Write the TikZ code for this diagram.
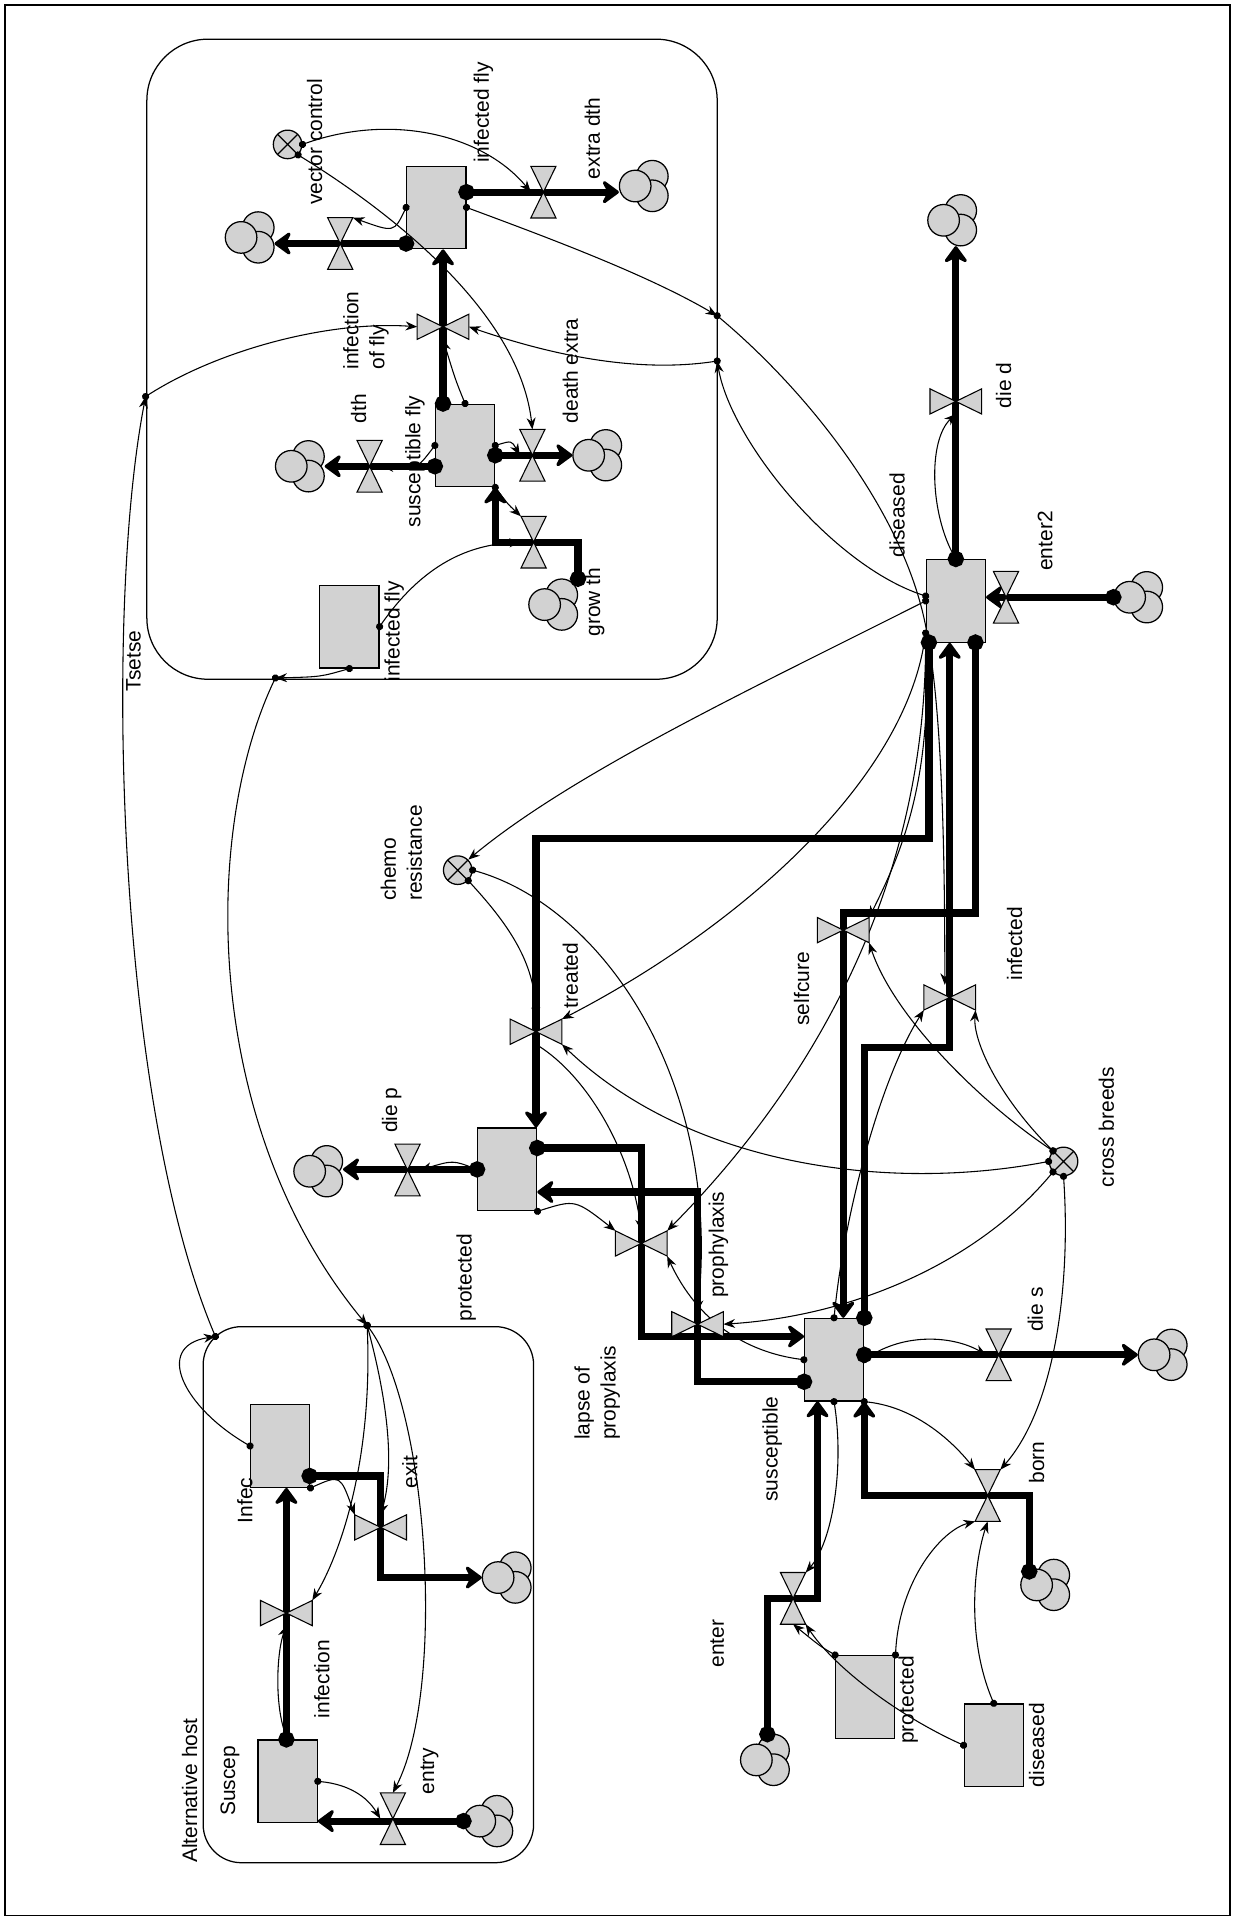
\documentclass[tikz,border=0pt]{standalone}
\usepackage{fontspec}
\setmainfont{Liberation Sans}
\usetikzlibrary{arrows.meta,calc}

% a source or sink: three puffs, front puff at (#2,#3)
\newcommand{\cloud}[3]{%
  \node[puff] (#1b) at ($(#2,#3)+(14,-8)$) {};
  \node[puff] (#1c) at ($(#2,#3)+(14,8)$) {};
  \node[puff] (#1a) at (#2,#3) {};
  \node[cloudbox] (#1) at ($(#2,#3)+(7,0)$) {};}

\begin{document}
\begin{tikzpicture}[x=0.024cm, y=-0.024cm,
  font=\fontsize{11.7}{14.5}\selectfont,
  stock/.style={draw, line width=0.7pt, fill=gray!35, minimum width=1.16cm, minimum height=1.62cm, inner sep=0},
  conv/.style={circle, draw, line width=0.7pt, fill=gray!35, minimum size=0.56cm, inner sep=0,
    path picture={\draw[line width=0.7pt] (path picture bounding box.north west) -- (path picture bounding box.south east)
      (path picture bounding box.north east) -- (path picture bounding box.south west);}},
  puff/.style={circle, draw, line width=0.7pt, fill=gray!35, minimum size=0.62cm, inner sep=0},
  cloudbox/.style={minimum width=0.96cm, minimum height=1cm, inner sep=0},
  valveh/.style={minimum width=0.48cm, minimum height=1cm, inner sep=0},
  valvev/.style={minimum width=1cm, minimum height=0.48cm, inner sep=0},
  vshape/.style={draw, line width=0.6pt, fill=gray!35},
  flow/.style={line width=4pt, shorten <=-4.5pt, {Circle[length=9pt]}-{Stealth[length=11pt,width=16pt,inset=4pt,round]}},
  link/.style={line width=0.6pt, shorten <=-2pt, {Circle[length=4pt]}-{Stealth[length=6.5pt,width=5pt]}},
  lbl/.style={rotate=90, inner sep=0, align=left},
  area/.style={draw, line width=0.7pt}
]
\useasboundingbox (0,0) rectangle (1009,1568);
\draw[area] (4,4) rectangle (1005,1565);
\draw[area, rounded corners=1.2cm] (120,32) rectangle (586,555);
\draw[area, rounded corners=0.75cm] (166,1084) rectangle (436,1522);

% stocks
\node[stock] (sInfFly) at (356.5,169.5) {};
\node[stock] (sSusFly) at (380,364) {};
\node[stock] (sInfFly2) at (285.5,512) {};
\node[stock] (sDis) at (781,491) {};
\node[stock] (sProt) at (414.5,955.5) {};
\node[stock] (sSus) at (681.5,1111) {};
\node[stock] (sProt2) at (707,1386.5) {};
\node[stock] (sDis2) at (812,1426) {};
\node[stock] (sInfec) at (229,1181.5) {};
\node[stock] (sSuscep) at (235,1455.5) {};

% converters
\node[conv] (cVector) at (235,118) {};
\node[conv] (cChemo) at (374,711) {};
\node[conv] (cCross) at (869,949) {};

% clouds
\cloud{kExtra}{519}{152}
\cloud{kFlyOut}{197}{194}
\cloud{kDth}{238}{381}
\cloud{kDeathX}{481}{372}
\cloud{kGrowth}{445}{494}
\cloud{kDieD}{771}{180}
\cloud{kEnter2}{923}{488}
\cloud{kDieP}{253}{957}
\cloud{kDieS}{943}{1107}
\cloud{kBorn}{847}{1295}
\cloud{kEnter}{618}{1438}
\cloud{kExit}{407}{1289}
\cloud{kEntry}{392}{1488}

% valves
\node[valveh] (vExtra) at (444,157) {};
\node[valveh] (vFlyOut) at (278,199) {};
\node[valveh] (vDth) at (302,381) {};
\node[valveh] (vDeathX) at (435,372) {};
\node[valveh] (vGrowth) at (436,443) {};
\node[valveh] (vEnter2) at (822,488) {};
\node[valveh] (vDieP) at (333,956) {};
\node[valveh] (vDieS) at (816,1107) {};
\node[valveh] (vBorn) at (807,1222) {};
\node[valveh] (vEnter) at (648,1306) {};
\node[valveh] (vEntry) at (321,1486) {};
\node[valvev] (vInfFly) at (362,267) {};
\node[valvev] (vDieD) at (781,328) {};
\node[valvev] (vTreated) at (438,843) {};
\node[valvev] (vSelf) at (689,760) {};
\node[valvev] (vInfected) at (776,815) {};
\node[valvev] (vLapse) at (524,1016) {};
\node[valvev] (vProph) at (570,1082) {};
\node[valvev] (vExit) at (311,1248) {};
\node[valvev] (vInfection) at (234,1318) {};

% points on the borders and on the pipes
\coordinate (bR1) at (586,258);
\coordinate (bR2) at (586,295);
\coordinate (bL) at (119,324);
\coordinate (bB) at (225,554);
\coordinate (bA) at (300,1083);
\coordinate (bT) at (176,1092);
\coordinate (tStart) at (759,525);
\coordinate (tCorner) at (438,685);
\coordinate (scStart) at (797,525);
\coordinate (scCorner) at (689,746);
\coordinate (icCorner) at (776,856);
\coordinate (aStart) at (439,938);
\coordinate (aEnd) at (657,1092);
\coordinate (bStart) at (657,1129);
\coordinate (bEnd) at (439,974);
\coordinate (bornStart) at (841,1284);
\coordinate (enStart) at (627,1417);
\coordinate (enEnd) at (668,1145);
\coordinate (exStart) at (253,1206);

% connectors, tsetse
\draw[link] (cVector.east) .. controls (320,92) and (395,110) .. (vExtra.west);
\draw[link] (cVector.south east) .. controls (330,180) and (425,260) .. (vDeathX.north);
\draw[link] (sInfFly.east) .. controls (450,195) and (530,225) .. (bR1);
\draw[link] (bR1) .. controls (660,320) and (740,420) .. (757,515) .. controls (770,580) and (772,700) .. ($(vInfected.north)+(-4,0)$);
\draw[link] (sInfFly.west) .. controls (322,190) .. (vFlyOut.north east);
\draw[link] (bL) .. controls (180,285) and (270,262) .. (vInfFly.west);
\draw[link] (bR2) .. controls (520,305) and (450,290) .. (vInfFly.east);
\draw[link] ($(sDis.west)+(0,-4)$) .. controls (680,462) and (597,360) .. (bR2);
\draw[link] (sSusFly.north) .. controls (372,310) .. (vInfFly.south);
\draw[link] (sSusFly.west) .. controls (340,384) .. (vDth.east);
\draw[link] (sSusFly.east) .. controls (418,360) .. (vDeathX.west);
\draw[link] (sSusFly.south east) .. controls (415,412) .. (vGrowth.north west);
\draw[link] (sInfFly2.east) .. controls (350,455) and (390,445) .. (vGrowth.west);
\draw[link] (sInfFly2.south) .. controls (262,553) .. (bB);
\draw[link] (bB) .. controls (165,680) and (165,920) .. (bA);
\draw[link] (bT) .. controls (95,900) and (85,500) .. (bL);

% connectors, alternative host
\draw[link] (sInfec.west) .. controls (150,1150) and (125,1100) .. (bT);
\draw[link] (bA) .. controls (305,1200) and (275,1275) .. (vInfection.north east);
\draw[link] (bA) .. controls (318,1150) and (322,1200) .. (vExit.north);
\draw[link] (bA) .. controls (350,1150) and (365,1380) .. (vEntry.north);
\draw[link] (sInfec.south east) .. controls (278,1205) .. (vExit.north west);
\draw[link] (sSuscep.north) .. controls (224,1395) and (226,1350) .. (vInfection.south);
\draw[link] (sSuscep.east) .. controls (285,1458) and (300,1468) .. (vEntry.west);

% connectors, cattle
\draw[link] (sDis.north) .. controls (760,420) and (758,360) .. (vDieD.south);
\draw[link] (sDis.west) .. controls (620,560) and (470,630) .. (cChemo.north east);
\draw[link] ($(sDis.south west)+(0,-8)$) .. controls (740,640) and (600,760) .. (vTreated.north east);
\draw[link] (sDis.south west) .. controls (762,640) and (735,700) .. (vSelf.north east);
\draw[link] (sDis.south west) .. controls (755,760) and (630,920) .. (vLapse.north east);
\draw[link] (cChemo.south east) .. controls (420,760) and (437,790) .. (vTreated.north);
\draw[link] (cChemo.east) .. controls (490,740) and (590,880) .. (vProph.north);
\draw[link] (cCross.west) .. controls (720,975) and (560,950) .. (vTreated.south east);
\draw[link] (cCross.north west) .. controls (800,900) and (730,830) .. (vSelf.south east);
\draw[link] (cCross.north west) .. controls (815,895) and (795,850) .. (vInfected.south east);
\draw[link] (cCross.south west) .. controls (800,1030) and (700,1075) .. (vProph.east);
\draw[link] (cCross.south) .. controls (875,1050) and (862,1150) .. (vBorn.north east);
\draw[link] (sSus.north) .. controls (690,990) and (720,880) .. (vInfected.south west);
\draw[link] (vTreated.south) .. controls (480,880) and (515,940) .. (vLapse.north);
\draw[link] (sProt.south east) .. controls (470,980) .. (vLapse.north west);
\draw[link] (sSus.west) .. controls (610,1105) and (570,1080) .. (vLapse.south east);
\draw[link] (sSus.east) .. controls (740,1088) and (780,1092) .. (vDieS.west);
\draw[link] (sSus.south east) .. controls (750,1150) and (780,1180) .. (vBorn.north west);
\draw[link] (sSus.south) .. controls (690,1200) and (680,1260) .. (vEnter.north east);
\draw[link] (sProt2.north east) .. controls (735,1290) and (770,1250) .. (vBorn.south west);
\draw[link] (sDis2.north) .. controls (790,1340) and (795,1280) .. (vBorn.south);
\draw[link] (sDis2.west) .. controls (730,1400) and (680,1360) .. (vEnter.south east);
\draw[link] (sProt2.north west) .. controls (670,1345) .. (vEnter.south);
\draw[link] (sProt.west) .. controls (370,948) .. (vDieP.east);

% flows
\draw[flow] (sInfFly.east |- vExtra) -- (kExtra.west |- vExtra);
\draw[flow] (sInfFly.west |- vFlyOut) -- (kFlyOut.east |- vFlyOut);
\draw[flow] (vInfFly |- sSusFly.north) -- (vInfFly |- sInfFly.south);
\draw[flow] (sSusFly.west |- vDth) -- (kDth.east |- vDth);
\draw[flow] (sSusFly.east |- vDeathX) -- (kDeathX.west |- vDeathX);
\draw[flow] (kGrowth.north east) |- (vGrowth.center) -| (sSusFly.south east);
\draw[flow] (sDis.north) -- (sDis.north |- kDieD.south);
\draw[flow] (kEnter2.west) -- (sDis.east |- kEnter2.west);
\draw[flow] (tStart) |- (tCorner) -- (tCorner |- sProt.north);
\draw[flow] (scStart) |- (scCorner) -- (scCorner |- sSus.north);
\draw[flow] (sSus.north east) |- (icCorner) -- (icCorner |- sDis.south);
\draw[flow] (sProt.west) -- (kDieP.east |- sProt.west);
\draw[flow] (aStart) -| (vLapse.center) |- (aEnd);
\draw[flow] (bStart) -| (vProph.center) |- (bEnd);
\draw[flow] (sSus.east |- vDieS) -- (kDieS.west |- vDieS);
\draw[flow] (bornStart) |- (vBorn.center) -| (sSus.south east);
\draw[flow] (enStart) |- (vEnter.center) -| (enEnd);
\draw[flow] (vInfection |- sSuscep.north) -- (vInfection |- sInfec.south);
\draw[flow] (exStart) -| (vExit.center) |- (kExit.west);
\draw[flow] (kEntry.west) -- (sSuscep.east |- kEntry.west);

% valve shapes on top of the pipes
\foreach \v in {vExtra,vFlyOut,vDth,vDeathX,vGrowth,vEnter2,vDieP,vDieS,vBorn,vEnter,vEntry}
  \draw[vshape] (\v.north west) -- (\v.north east) -- (\v.south west) -- (\v.south east) -- cycle;
\foreach \v in {vInfFly,vDieD,vTreated,vSelf,vInfected,vLapse,vProph,vExit,vInfection}
  \draw[vshape] (\v.north west) -- (\v.south west) -- (\v.north east) -- (\v.south east) -- cycle;

% labels
\node[lbl] (lTsetse) at (109,540) {Tsetse};
\node[lbl] (lVector) at (257,116) {vector control};
\node[lbl] (lInfFly) at (395,92) {infected fly};
\node[lbl] (lExtra) at (484,113) {extra dth};
\node[lbl] (lInfOfFly) at (299,270) {infection\\of fly};
\node[lbl] (lDeathX) at (466,303) {death extra};
\node[lbl] (lDth) at (293,334) {dth};
\node[lbl] (lSusFly) at (339,377) {susceptible fly};
\node[lbl] (lGrowth) at (486,492) {grow th};
\node[lbl] (lInfFly2) at (322,516) {infected fly};
\node[lbl] (lDis) at (733,421) {diseased};
\node[lbl] (lDieD) at (820,315) {die d};
\node[lbl] (lEnter2) at (854,442) {enter2};
\node[lbl] (lChemo) at (328,697) {chemo\\resistance};
\node[lbl] (lTreated) at (466,797) {treated};
\node[lbl] (lSelf) at (655,808) {selfcure};
\node[lbl] (lInfected) at (829,771) {infected};
\node[lbl] (lDieP) at (320,907) {die p};
\node[lbl] (lCross) at (904,921) {cross breeds};
\node[lbl] (lProt) at (381,1044) {protected};
\node[lbl] (lProph) at (587,1017) {prophylaxis};
\node[lbl] (lDieS) at (846,1070) {die s};
\node[lbl] (lLapse) at (488,1138) {lapse of\\propylaxis};
\node[lbl] (lSus) at (631,1184) {susceptible};
\node[lbl] (lBorn) at (847,1195) {born};
\node[lbl] (lEnter) at (586,1343) {enter};
\node[lbl] (lProt2) at (742,1389) {protected};
\node[lbl] (lDis2) at (847,1426) {diseased};
\node[lbl] (lInfec) at (200,1226) {Infec};
\node[lbl] (lExit) at (335,1203) {exit};
\node[lbl] (lInfection) at (263,1372) {infection};
\node[lbl] (lSuscep) at (188,1455) {Suscep};
\node[lbl] (lEntry) at (351,1447) {entry};
\node[lbl] (lAlt) at (155,1463) {Alternative host};
\end{tikzpicture}
\end{document}
